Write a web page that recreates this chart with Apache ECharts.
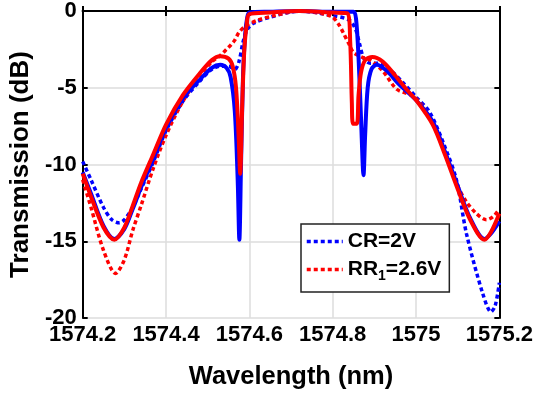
<!DOCTYPE html>
<html><head><meta charset="utf-8">
<script src="https://cdn.jsdelivr.net/npm/echarts@6/dist/echarts.min.js"></script>
<style>html,body{margin:0;padding:0;background:#fff}#c{width:536px;height:396px}</style>
</head><body><div id="c"></div>
<script>
// ---- data ----
const xTicks = [1574.2, 1574.4, 1574.6, 1574.8, 1575, 1575.2];
const yTicks = [-20, -15, -10, -5, 0];

const blueSolidX = [1574.2,1574.22,1574.25,1574.276,1574.3,1574.32,1574.34,1574.37,1574.4,1574.44,1574.48,1574.51,1574.53,1574.545,1574.555,1574.565,1574.572,1574.576,1574.58,1574.585,1574.59,1574.595,1574.6,1574.65,1574.72,1574.8,1574.85,1574.856,1574.862,1574.868,1574.874,1574.878,1574.884,1574.893,1574.906,1574.93,1574.96,1575.0,1575.04,1575.07,1575.1,1575.13,1575.164,1575.18,1575.2];
const blueSolidY = [-10.5,-11.9,-14.0,-14.85,-14.2,-12.9,-11.5,-9.6,-7.6,-5.7,-4.5,-3.7,-3.5,-3.7,-4.3,-6.5,-11,-14.9,-10,-4,-1.5,-0.4,-0.1,-0.05,0,-0.05,-0.05,-0.5,-3,-7,-10.7,-8,-5,-3.8,-3.5,-3.9,-4.8,-5.8,-7.2,-9.2,-11.4,-13.5,-14.85,-14.5,-13.7];

const redSolidX = [1574.2,1574.22,1574.25,1574.276,1574.3,1574.32,1574.34,1574.37,1574.4,1574.44,1574.48,1574.51,1574.53,1574.55,1574.56,1574.568,1574.574,1574.578,1574.583,1574.588,1574.594,1574.6,1574.65,1574.72,1574.8,1574.835,1574.842,1574.846,1574.849,1574.858,1574.862,1574.868,1574.878,1574.895,1574.92,1574.95,1574.98,1575.0,1575.04,1575.07,1575.1,1575.13,1575.164,1575.18,1575.2];
const redSolidY = [-10.6,-12.1,-14.1,-14.9,-14.1,-12.7,-11.2,-9.3,-7.4,-5.5,-4.1,-3.2,-2.95,-3.1,-3.6,-5,-8,-10.6,-6,-2.5,-0.8,-0.2,-0.1,0,-0.1,-0.15,-2,-6,-7.35,-7.35,-5.5,-4,-3.2,-3.0,-3.3,-4.2,-5.2,-5.8,-7.4,-9.4,-11.6,-13.6,-14.9,-14.4,-13.2];

const crX = [1574.2,1574.22,1574.25,1574.27,1574.288,1574.3,1574.32,1574.34,1574.37,1574.4,1574.44,1574.48,1574.51,1574.53,1574.55,1574.565,1574.575,1574.585,1574.595,1574.61,1574.65,1574.72,1574.8,1574.84,1574.855,1574.865,1574.875,1574.89,1574.91,1574.94,1574.97,1575.0,1575.033,1575.07,1575.097,1575.121,1575.16,1575.18,1575.19,1575.2];
const crY = [-9.8,-11.0,-12.8,-13.6,-13.8,-13.6,-12.8,-11.6,-9.8,-7.8,-5.9,-4.6,-3.8,-3.6,-3.6,-3.8,-3.3,-2.0,-1.2,-0.8,-0.4,0,-0.3,-0.6,-1.2,-2.2,-3.1,-3.4,-3.4,-3.9,-4.7,-5.6,-6.6,-8.9,-11.0,-14.5,-18.4,-19.6,-19.2,-17.7];

const rrX = [1574.2,1574.22,1574.25,1574.279,1574.3,1574.32,1574.341,1574.37,1574.4,1574.44,1574.48,1574.51,1574.53,1574.545,1574.556,1574.565,1574.575,1574.59,1574.62,1574.66,1574.72,1574.78,1574.8,1574.815,1574.825,1574.84,1574.85,1574.87,1574.89,1574.92,1574.954,1574.99,1575.01,1575.04,1575.07,1575.1,1575.12,1575.145,1575.169,1575.185,1575.2];
const rrY = [-11.0,-12.8,-15.6,-17.1,-16.2,-14.3,-12.6,-10.2,-8.1,-5.9,-4.3,-3.3,-2.9,-2.5,-2.2,-1.9,-1.4,-1.0,-0.6,-0.3,0,-0.2,-0.4,-0.9,-1.4,-2.2,-2.7,-3.0,-3.2,-3.9,-5.1,-5.5,-6.0,-7.3,-9.3,-11.4,-12.4,-13.2,-13.6,-13.4,-12.9];

const legendNames = ['CR=2V', 'RR1=2.6V'];
// ---- chart ----
const zip = (xs, ys) => xs.map((x, i) => [x, ys[i]]);
const FONT = 'Liberation Sans';
const BLUE = '#0000ff', RED = '#ff0000';
const chart = echarts.init(document.getElementById('c'), null, {renderer: 'canvas'});
const axisLine = {show: true, lineStyle: {color: '#000', width: 2}};
const axisTick = {show: true, inside: true, length: 5, lineStyle: {color: '#000', width: 2}};
const lbl = {fontFamily: FONT, fontWeight: 'bold', fontSize: 22, color: '#000'};
const SM = 0.3;
chart.setOption({
  animation: false,
  backgroundColor: '#fff',
  grid: {left: 81, right: 36, top: 8, bottom: 78},
  legend: {
    data: legendNames,
    orient: 'vertical', left: 301, top: 224,
    backgroundColor: '#fff', borderColor: '#222', borderWidth: 1.5, borderRadius: 0,
    padding: [7, 8, 9, 4], itemGap: 7, itemWidth: 36, itemHeight: 14,
    itemStyle: {opacity: 0},
    lineStyle: {width: 3.5, type: [4, 3]},
    formatter: n => n === 'RR1=2.6V' ? '{a|RR}{s|1}{a|=2.6V}' : '{a|' + n + '}',
    textStyle: {
      fontFamily: FONT, fontWeight: 'bold', fontSize: 21, color: '#000',
      rich: {
        a: {fontFamily: FONT, fontWeight: 'bold', fontSize: 21, color: '#000'},
        s: {fontFamily: FONT, fontWeight: 'bold', fontSize: 14, color: '#000', padding: [13, 0, 0, 0]}
      }
    }
  },
  xAxis: [{
    type: 'value', min: 1574.2, max: 1575.2, interval: 0.2,
    axisLine, axisTick,
    axisLabel: Object.assign({margin: 6, formatter: v => String(+v.toFixed(1))}, lbl),
    splitLine: {show: true, lineStyle: {color: '#dcdcdc', width: 1.5}},
    name: 'Wavelength (nm)', nameLocation: 'middle', nameGap: 46,
    nameTextStyle: {fontFamily: FONT, fontWeight: 'bold', fontSize: 25.5, color: '#000'}
  }, {
    type: 'value', position: 'top', min: 1574.2, max: 1575.2, interval: 0.2,
    axisLine, axisTick, axisLabel: {show: false}, splitLine: {show: false}
  }],
  yAxis: [{
    type: 'value', min: -20, max: 0, interval: 5,
    axisLine, axisTick,
    axisLabel: Object.assign({margin: 6}, lbl),
    splitLine: {show: true, lineStyle: {color: '#dcdcdc', width: 1.5}},
    name: 'Transmission (dB)', nameLocation: 'middle', nameGap: 39,
    nameTextStyle: {fontFamily: FONT, fontWeight: 'bold', fontSize: 26, color: '#000'}
  }, {
    type: 'value', position: 'right', min: -20, max: 0, interval: 5,
    axisLine, axisTick, axisLabel: {show: false}, splitLine: {show: false}
  }],
  series: [
    {name: 'blue', type: 'line', data: zip(blueSolidX, blueSolidY), showSymbol: false, symbol: 'none', smooth: SM,
     lineStyle: {color: BLUE, width: 4}, itemStyle: {color: BLUE}, z: 3},
    {name: 'red', type: 'line', data: zip(redSolidX, redSolidY), showSymbol: false, symbol: 'none', smooth: SM,
     lineStyle: {color: RED, width: 4}, itemStyle: {color: RED}, z: 4},
    {name: 'CR=2V', type: 'line', data: zip(crX, crY), showSymbol: false, symbol: 'none', smooth: SM,
     lineStyle: {color: BLUE, width: 3.5, type: [4, 3]}, itemStyle: {color: BLUE}, z: 2},
    {name: 'RR1=2.6V', type: 'line', data: zip(rrX, rrY), showSymbol: false, symbol: 'none', smooth: SM,
     lineStyle: {color: RED, width: 3.5, type: [4, 3]}, itemStyle: {color: RED}, z: 2}
  ]
});
</script></body></html>
